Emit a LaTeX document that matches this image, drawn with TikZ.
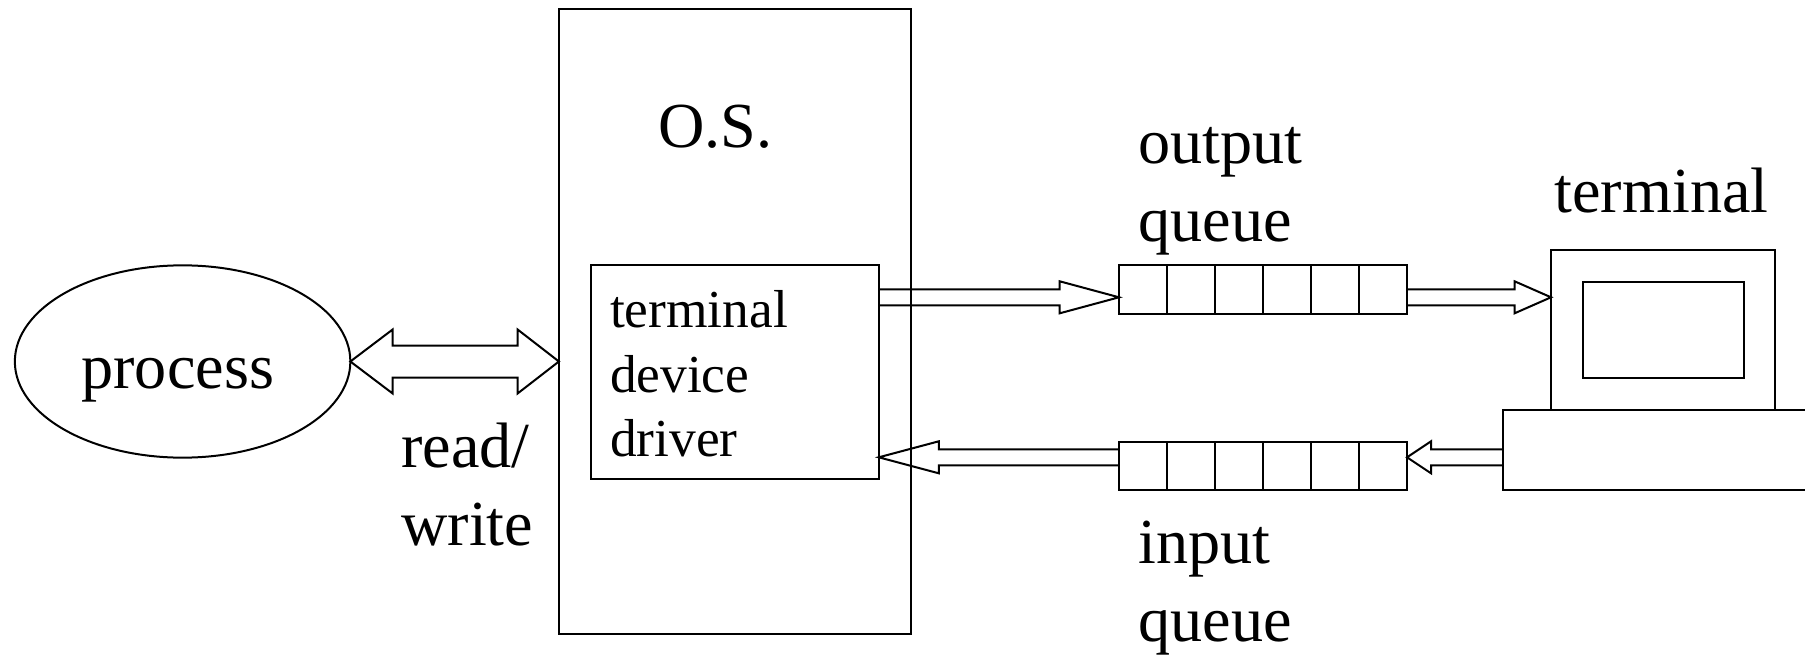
\documentclass[tikz,border=0pt]{standalone}
\usepackage{fontspec}
\setmainfont{Liberation Serif}
\usetikzlibrary{calc,shapes.geometric}
\tikzset{
  linework/.style={draw=black,line width=2pt,line join=miter,miter limit=10},
  boxnode/.style={linework,rectangle,inner sep=0pt,outer sep=0pt,anchor=north west},
  cell/.style={boxnode,minimum width=48pt,minimum height=48.5pt},
  biglabel/.style={inner sep=0pt,outer sep=0pt,anchor=base west,align=left,font=\fontsize{64.2}{78}\selectfont},
  smalllabel/.style={inner sep=0pt,outer sep=0pt,anchor=base west,align=left,font=\fontsize{53.4}{64.3}\selectfont}
}
% open-ended hollow arrow: {start}{tip}{head length (signed)}
\newcommand{\hollowarrow}[3]{%
  \draw[linework] let \p1=(#1),\p2=(#2) in
    (\x1,\y1+8pt) -- ({\x2-(#3)},\y2+8pt) -- ({\x2-(#3)},\y2+16pt) -- (\x2,\y2)
    -- ({\x2-(#3)},\y2-16pt) -- ({\x2-(#3)},\y2-8pt) -- (\x1,\y1-8pt);}
\begin{document}
\begin{tikzpicture}[x=1pt,y=-1pt]
\clip (0,0) rectangle (1805,655);
% process and O.S.
\node[linework,ellipse,inner sep=0pt,outer sep=0pt,minimum width=335.5pt,minimum height=192.3pt] (proc) at (182.6,361.5) {};
\node[boxnode,minimum width=352pt,minimum height=624pt] (os) at (558.9,9.5) {};
\node[boxnode,minimum width=288pt,minimum height=213.5pt] (drv) at (590.8,265.5) {};
% queues
\node[cell] (oq1) at (1119,265.5) {};
\foreach \i [remember=\i as \j (initially 1)] in {2,...,6}
  \node[cell,anchor=west] (oq\i) at (oq\j.east) {};
\node[cell] (iq1) at (1119,441.5) {};
\foreach \i [remember=\i as \j (initially 1)] in {2,...,6}
  \node[cell,anchor=west] (iq\i) at (iq\j.east) {};
% terminal
\node[boxnode,minimum width=224.4pt,minimum height=160pt] (mon) at (1551,249.6) {};
\node[boxnode,minimum width=160.5pt,minimum height=96.3pt] (scr) at (1583,281.5) {};
\node[boxnode,minimum width=340pt,minimum height=80pt] (kbd) at (1503.2,409.6) {};
% arrow end points on the boxes
\coordinate (a1s) at (drv.east |- 0,297.3);
\coordinate (a1t) at (oq1.west |- 0,297.3);
\coordinate (a2s) at (oq6.east |- 0,297.3);
\coordinate (a2t) at (mon.west |- 0,297.3);
\coordinate (a3s) at (kbd.west |- 0,457.3);
\coordinate (a3t) at (iq6.east |- 0,457.3);
\coordinate (a4s) at (iq1.west |- 0,457.3);
\coordinate (a4t) at (drv.east |- 0,457.3);
\hollowarrow{a1s}{a1t}{59.3pt}
\hollowarrow{a2s}{a2t}{36.4pt}
\hollowarrow{a3s}{a3t}{-24pt}
\hollowarrow{a4s}{a4t}{-60pt}
% read/write double arrow
\coordinate (rwl) at (proc.east);
\coordinate (rwr) at (os.west |- proc.east);
\draw[linework] let \p1=(rwl),\p2=(rwr) in
  (\x1,\y1) -- (\x1+42.3pt,\y1+32pt) -- (\x1+42.3pt,\y1+16pt) -- (\x2-41.3pt,\y1+16pt)
  -- (\x2-41.3pt,\y1+32pt) -- (\x2,\y1) -- (\x2-41.3pt,\y1-32pt) -- (\x2-41.3pt,\y1-16pt)
  -- (\x1+42.3pt,\y1-16pt) -- (\x1+42.3pt,\y1-32pt) -- cycle;
% labels
\node[biglabel] (tproc) at (81.5,388) {process};
\node[biglabel] (tos) at (658,147.5) {O.S.};
\node[biglabel] (tout) at (1138.5,241.5) {output\\queue};
\node[biglabel] (tterm) at (1554.5,212.5) {terminal};
\node[biglabel] (tin) at (1138.5,641) {input\\queue};
\node[biglabel] (trw) at (401.4,545.3) {read/\\write};
\node[smalllabel] (tdrv) at (610,456.5) {terminal\\device\\driver};
\end{tikzpicture}
\end{document}
